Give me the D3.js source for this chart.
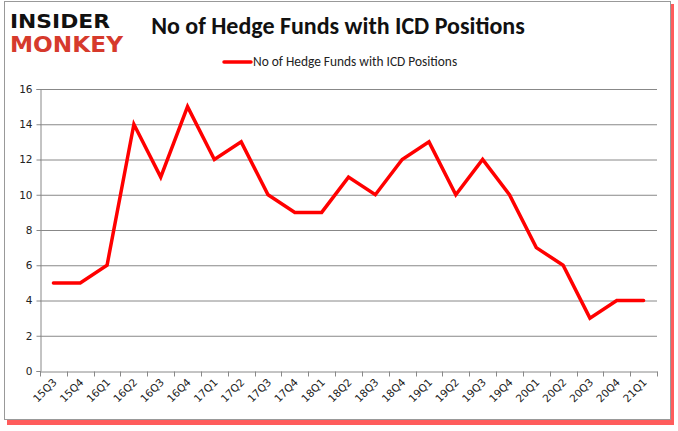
<!DOCTYPE html>
<html>
<head>
<meta charset="utf-8">
<script src="https://cdn.jsdelivr.net/npm/d3@7.9.0/dist/d3.min.js"></script>
<style>
  body { margin: 0; background: #fff; }
  svg { display: block; font-family: Calibri, Carlito, "Liberation Sans", Arial, sans-serif; }
</style>
</head>
<body>
<svg id="chart" width="678" height="431"></svg>
<script>
const quarters = ["15Q3", "15Q4", "16Q1", "16Q2", "16Q3", "16Q4", "17Q1", "17Q2", "17Q3", "17Q4",
  "18Q1", "18Q2", "18Q3", "18Q4", "19Q1", "19Q2", "19Q3", "19Q4", "20Q1", "20Q2", "20Q3", "20Q4", "21Q1"];
const fundCounts = [5, 5, 6, 14, 11, 15, 12, 13, 10, 9, 9, 11, 10, 12, 13, 10, 12, 10, 7, 6, 3, 4, 4];
const yTicks = [0, 2, 4, 6, 8, 10, 12, 14, 16];
const seriesName = "No of Hedge Funds with ICD Positions";

const svg = d3.select("#chart");
const margin = { left: 40, right: 657, top: 89, bottom: 371 };

// frame with red shadow
svg.append("rect").attr("x", 7).attr("y", 4).attr("width", 667).attr("height", 421)
  .attr("fill", "#f33").attr("opacity", 0.8);
svg.append("rect").attr("x", 4.5).attr("y", 1.5).attr("width", 666).attr("height", 418)
  .attr("fill", "#fff").attr("stroke", "#999").attr("stroke-width", 1);

// logo
svg.append("text").attr("x", 10).attr("y", 28)
  .attr("font-family", "'DejaVu Sans', sans-serif").attr("font-weight", "bold")
  .attr("font-size", 20).attr("textLength", 100).attr("lengthAdjust", "spacingAndGlyphs")
  .attr("fill", "#111").text("INSIDER");
svg.append("text").attr("x", 10).attr("y", 52)
  .attr("font-family", "'DejaVu Sans', sans-serif").attr("font-weight", "bold")
  .attr("font-size", 21).attr("textLength", 113).attr("lengthAdjust", "spacingAndGlyphs")
  .attr("fill", "#d63a2c").text("MONKEY");

// title
svg.append("text").attr("x", 338).attr("y", 34).attr("text-anchor", "middle")
  .attr("font-size", 24).attr("font-weight", "bold").attr("fill", "#111")
  .text(seriesName);

// legend
svg.append("line").attr("x1", 224).attr("x2", 251).attr("y1", 62).attr("y2", 62)
  .attr("stroke", "#f00").attr("stroke-width", 3.5).attr("stroke-linecap", "round");
svg.append("text").attr("x", 253).attr("y", 66).attr("font-size", 13.4).attr("fill", "#222")
  .text(seriesName);

const x = d3.scaleBand().domain(quarters).range([margin.left, margin.right]);
const y = d3.scaleLinear().domain([0, 16]).range([margin.bottom, margin.top]);

// grid
svg.append("g").selectAll("line").data(yTicks.filter(d => d > 0)).join("line")
  .attr("x1", margin.left).attr("x2", margin.right)
  .attr("y1", d => y(d) + 0.5).attr("y2", d => y(d) + 0.5)
  .attr("stroke", "#888").attr("stroke-width", 1);

// y axis
const yAxis = svg.append("g").attr("transform", `translate(${margin.left + 0.5},0)`)
  .call(d3.axisLeft(y).tickValues(yTicks).tickSize(4).tickPadding(4));
yAxis.select(".domain").attr("stroke", "#888");
yAxis.selectAll(".tick line").attr("stroke", "#888");
yAxis.selectAll(".tick text").attr("fill", "#222")
  .attr("font-family", "'DejaVu Sans', sans-serif").style("font-size", "10.5px");

// x axis
const xAxis = svg.append("g").attr("transform", `translate(0,${margin.bottom + 0.5})`)
  .call(d3.axisBottom(x).tickSize(0).tickPadding(0));
xAxis.select(".domain").attr("stroke", "#888");
xAxis.selectAll(".tick text").remove();
const bounds = quarters.map(q => x(q)).concat([margin.right]);
xAxis.selectAll(".bound").data(bounds).join("line")
  .attr("x1", d => Math.round(d) + 0.5).attr("x2", d => Math.round(d) + 0.5)
  .attr("y1", 0).attr("y2", 5).attr("stroke", "#888");
svg.append("g").selectAll("text").data(quarters).join("text")
  .attr("transform", d => `translate(${x(d) + x.bandwidth() / 2 + 4},${margin.bottom + 12}) rotate(-45)`)
  .attr("text-anchor", "end").attr("fill", "#222")
  .attr("font-family", "'DejaVu Sans', sans-serif").style("font-size", "10.5px")
  .text(d => d);

// line
const line = d3.line().x((d, i) => x(quarters[i]) + x.bandwidth() / 2).y(d => y(d));
svg.append("path").datum(fundCounts).attr("d", line)
  .attr("fill", "none").attr("stroke", "#f00").attr("stroke-width", 3.5)
  .attr("stroke-linejoin", "miter").attr("stroke-linecap", "round");
</script>
</body>
</html>
